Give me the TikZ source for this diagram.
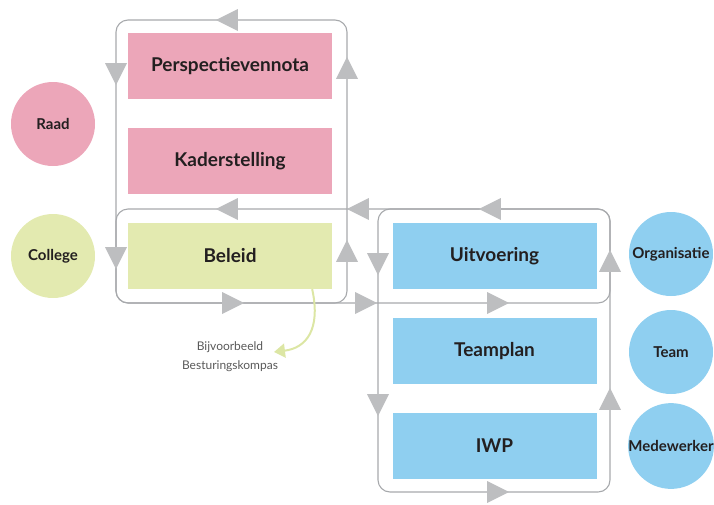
\documentclass[tikz,border=0pt]{standalone}
\usepackage{fontspec}
\setmainfont{Lato}
\usetikzlibrary{shapes.geometric}
\usetikzlibrary{arrows.meta}
\definecolor{raadpink}{HTML}{ECA6B9}
\definecolor{collegegreen}{HTML}{E3EAB0}
\definecolor{uitvblue}{HTML}{8FCFF0}
\definecolor{loopgray}{HTML}{A7A9AC}
\definecolor{tipgray}{HTML}{BDBEC0}
\definecolor{inkdark}{HTML}{231F20}
\definecolor{kompasgreen}{HTML}{DCE6A4}
\tikzstyle{stage}=[rectangle,minimum width=204pt,minimum height=66pt,inner sep=0pt,font=\fontsize{19}{22}\selectfont\bfseries,text=inkdark]
\tikzstyle{actor}=[circle,minimum size=84pt,inner sep=0pt,font=\fontsize{15}{17}\selectfont\bfseries,text=inkdark]
\tikzstyle{loop}=[draw=loopgray,line width=1.1pt,rounded corners=12pt]
\tikzstyle{flowtip}=[isosceles triangle,isosceles triangle stretches,fill=tipgray,minimum width=22pt,minimum height=22pt,inner sep=0pt]
\tikzstyle{note}=[font=\fontsize{12}{19}\selectfont,text=black!65,align=center]

\begin{document}
\begin{tikzpicture}[x=1pt,y=-1pt]
\useasboundingbox (0,0) rectangle (714,504);

%loops
    \coordinate (atl) at (116,20);  \coordinate (abr) at (347,303);
    \coordinate (btl) at (116,209); \coordinate (bbr) at (610,303);
    \coordinate (ctl) at (378,209); \coordinate (cbr) at (610,492);
    \draw[loop] (atl) rectangle (abr);
    \draw[loop] (btl) rectangle (bbr);
    \draw[loop] (ctl) rectangle (cbr);

%arrow heads on the loops
    \foreach \pos/\name/\ang in {{(231,20)/t1/180}, {(231,209)/t2/180}, {(362,209)/t3/180}, {(494,209)/t4/180},
        {(229,303)/t5/0}, {(362,303)/t6/0}, {(494,303)/t7/0}, {(494,492)/t8/0},
        {(116,70)/t9/270}, {(116,254)/t10/270}, {(347,72)/t11/90}, {(347,255)/t12/90},
        {(378,260)/t13/270}, {(378,401)/t14/270}, {(610,265)/t15/90}, {(610,403)/t16/90}}
        \node[flowtip,shape border rotate=\ang] (\name) at \pos {};

%stages
    \foreach \pos/\name/\col/\label in {{(230,66)/pnota/raadpink/Perspectievennota}, {(230,161)/kader/raadpink/Kaderstelling},
        {(230,256)/beleid/collegegreen/Beleid}, {(494.5,256)/uitv/uitvblue/Uitvoering},
        {(494.5,351)/tplan/uitvblue/Teamplan}, {(494.5,445.5)/iwp/uitvblue/IWP}}
        \node[stage,fill=\col] (\name) at \pos {\label};

%actors
    \foreach \pos/\name/\col/\label in {{(53,124)/raad/raadpink/Raad}, {(53,256)/college/collegegreen/College},
        {(671,254)/org/uitvblue/Organisatie}, {(671,352)/team/uitvblue/Team}, {(671,446)/mdw/uitvblue/Medewerker}}
        \node[actor,fill=\col] (\name) at \pos {\label};

%example
    \node[note] (kompas) at (230,357) {Bijvoorbeeld\\Besturingskompas};
    \coordinate (kstart) at ([xshift=-20pt]beleid.south east);
    \coordinate (kend) at (274,352);
    \draw[kompasgreen,line width=2pt,-{Triangle[width=14pt,length=11pt]}]
        (kstart) .. controls (321,330) and (306,348) .. (kend);

\end{tikzpicture}
\end{document}
